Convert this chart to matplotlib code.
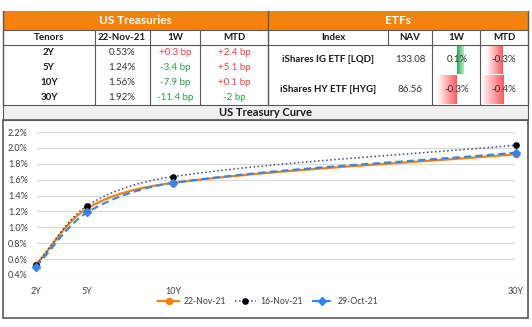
import numpy as np
import matplotlib
matplotlib.use("Agg")
import matplotlib.pyplot as plt
from matplotlib.patches import Rectangle
from matplotlib.lines import Line2D
from matplotlib.ticker import FuncFormatter

plt.rcParams['font.family'] = ['Lato', 'DejaVu Sans']

# ---------------- data ----------------
tenors = ["2Y", "5Y", "10Y", "30Y"]
tenor_years = [2, 5, 10, 30]
yield_22nov = [0.53, 1.24, 1.56, 1.92]
chg_1w_bp = [0.3, -3.4, -7.9, -11.4]
chg_mtd_bp = [2.4, 5.1, 0.1, -2.0]
yield_16nov = [0.527, 1.274, 1.639, 2.034]
yield_29oct = [0.506, 1.189, 1.559, 1.94]

etf_names = ["iShares IG ETF [LQD]", "iShares HY ETF [HYG]"]
etf_nav = [133.08, 86.56]
etf_1w = [0.1, -0.3]
etf_mtd = [-0.3, -0.4]

series_labels = ["22-Nov-21", "16-Nov-21", "29-Oct-21"]
y_ticks = [0.4, 0.6, 0.8, 1.0, 1.2, 1.4, 1.6, 1.8, 2.0, 2.2]

# ---------------- figure ----------------
W, H = 532, 327
fig = plt.figure(figsize=(W / 100, H / 100), dpi=100)
cv = fig.add_axes([0, 0, 1, 1])
cv.set_xlim(0, W)
cv.set_ylim(H, 0)
cv.axis('off')

ORANGE = '#f5820f'
BORDER = '#595959'
RED = '#f03a46'
GREEN = '#1aa34a'
TXT = '#333333'

# header orange band
cv.add_patch(Rectangle((3, 11), 525, 19, facecolor=ORANGE, edgecolor='none'))
cv.text(135.5, 20.5, "US Treasuries", color='white', fontweight='bold', fontsize=8.5,
        ha='center', va='center')
cv.text(398, 20.5, "ETFs", color='white', fontweight='bold', fontsize=8.5,
        ha='center', va='center')

def hline(y, x0, x1, c=BORDER, lw=0.8):
    cv.add_line(Line2D([x0, x1], [y, y], color=c, lw=lw))

def vline(x, y0, y1, c=BORDER, lw=0.8):
    cv.add_line(Line2D([x, x], [y0, y1], color=c, lw=lw))

# table grid
hline(30, 3, 528)
hline(45, 3, 528)
vline(3, 11, 105, lw=1.0)
vline(528, 11, 105, lw=1.0)
vline(268, 11, 105, lw=1.0)
for x in [95, 150, 200]:
    vline(x, 30, 105)
vline(388, 30, 45)
for x in [432, 480]:
    vline(x, 30, 105)

# headers
hdr_y = 37.5
for x, t in zip([49, 122, 175, 234], ["Tenors", "22-Nov-21", "1W", "MTD"]):
    cv.text(x, hdr_y, t, fontweight='bold', fontsize=7, ha='center', va='center', color='#1a1a1a')
for x, t in zip([333, 410, 456, 504], ["Index", "NAV", "1W", "MTD"]):
    cv.text(x, hdr_y, t, fontweight='bold', fontsize=7, ha='center', va='center', color='#1a1a1a')

def bp_txt(v):
    s = f"{v:+.0f}" if abs(v - round(v)) < 1e-9 else f"{v:+.1f}"
    return s + " bp"

row_y = [52.5, 67.5, 82.5, 97.5]
for i, ty in enumerate(row_y):
    cv.text(49, ty, tenors[i], fontweight='bold', fontsize=7, ha='center', va='center', color='#1a1a1a')
    cv.text(122, ty, f"{yield_22nov[i]:.2f}%", fontsize=7, ha='center', va='center', color=TXT)
    c1 = RED if chg_1w_bp[i] > 0 else GREEN
    cv.text(175, ty, bp_txt(chg_1w_bp[i]), fontsize=7, ha='center', va='center', color=c1)
    c2 = RED if chg_mtd_bp[i] > 0 else GREEN
    cv.text(234, ty, bp_txt(chg_mtd_bp[i]), fontsize=7, ha='center', va='center', color=c2)

# data bars
def gradient_bar(x_axis, val, scale, y0, y1, pos_color, neg_color):
    w = val * scale
    n = 64
    if val >= 0:
        x0, x1 = x_axis, x_axis + w
        base = np.array(matplotlib.colors.to_rgb(pos_color))
        t = np.linspace(0, 1, n)
        cols = base[None, :] * (1 - t[:, None] * 0.7) + np.ones(3)[None, :] * (t[:, None] * 0.7)
    else:
        x0, x1 = x_axis + w, x_axis
        base = np.array(matplotlib.colors.to_rgb(neg_color))
        t = np.linspace(1, 0, n)
        cols = base[None, :] * (1 - t[:, None] * 0.95) + np.ones(3)[None, :] * (t[:, None] * 0.95)
    img = cols[None, :, :]
    cv.imshow(img, extent=[x0, x1, y1, y0], aspect='auto', interpolation='bilinear', zorder=1)

etf_rows = [(46, 74), (75.5, 104)]
for i, (y0, y1) in enumerate(etf_rows):
    gradient_bar(456.5, etf_1w[i], 63, y0, y1, '#22b04b', '#ff5a5f')
    gradient_bar(503, etf_mtd[i], 53, y0, y1, '#22b04b', '#ff5a5f')

cv.set_xlim(0, W)
cv.set_ylim(H, 0)

etf_y = [60, 90]
for i, ty in enumerate(etf_y):
    cv.text(328, ty, etf_names[i], fontweight='bold', fontsize=7, ha='center', va='center', color='#1a1a1a', zorder=3)
    cv.text(410, ty, f"{etf_nav[i]:.2f}", fontsize=7, ha='center', va='center', color=TXT, zorder=3)
    cv.text(457, ty, f"{etf_1w[i]:.1f}%", fontsize=7, ha='center', va='center', color=TXT, zorder=3)
    cv.text(504, ty, f"{etf_mtd[i]:.1f}%", fontsize=7, ha='center', va='center', color=TXT, zorder=3)

# curve title strip
cv.add_patch(Rectangle((3, 105), 525, 15, facecolor='#f0f0f0', edgecolor=BORDER, lw=0.8))
cv.text(265.5, 113, "US Treasury Curve", fontweight='bold', fontsize=8, ha='center', va='center', color='#1a1a1a')
# chart border
cv.add_patch(Rectangle((3, 120), 525, 198, facecolor='none', edgecolor=BORDER, lw=1.2))

# ---------------- chart ----------------
def px_box(x0, y0, x1, y1):
    return [x0 / W, 1 - y1 / H, (x1 - x0) / W, (y1 - y0) / H]

ax = fig.add_axes(px_box(36, 132, 516, 275))
ax.set_xlim(2, 30)
ax.set_ylim(0.4, 2.2)
ax.set_yticks(y_ticks)
ax.yaxis.set_major_formatter(FuncFormatter(lambda v, p: f"{v:.1f}%"))
ax.set_xticks(tenor_years)
ax.set_xticklabels(tenors)
ax.grid(axis='y', color='#d9d9d9', lw=0.8)
ax.set_axisbelow(True)
for s in ax.spines.values():
    s.set_visible(False)
ax.tick_params(length=0, labelsize=6.5, colors='#404040')
ax.tick_params(axis='x', pad=9)
ax.tick_params(axis='y', pad=6)
ax.patch.set_alpha(0)


def smooth(x, y, n=60):
    """Excel-style smoothed line (Bezier through the points, in display space)."""
    P = ax.transData.transform(np.column_stack([x, y]).astype(float))
    N = len(P)
    out = []
    for i in range(N - 1):
        p1, p2 = P[i], P[i + 1]
        d12 = np.hypot(*(p2 - p1))
        if i > 0:
            d01 = np.hypot(*(p1 - P[i - 1]))
            c1 = p1 + (p2 - P[i - 1]) * d12 / (d01 + d12) / 3
        else:
            c1 = p1 + (p2 - p1) / 3
        if i + 2 < N:
            d23 = np.hypot(*(P[i + 2] - p2))
            c2 = p2 - (P[i + 2] - p1) * d12 / (d12 + d23) / 3
        else:
            c2 = p2 - (p2 - p1) / 3
        t = np.linspace(0, 1, n)[:, None]
        seg = ((1 - t) ** 3) * p1 + 3 * ((1 - t) ** 2) * t * c1 + 3 * (1 - t) * t ** 2 * c2 + t ** 3 * p2
        out.append(seg if i == 0 else seg[1:])
    S = ax.transData.inverted().transform(np.vstack(out))
    return S[:, 0], S[:, 1]

styles = [
    dict(color='#f5820f', ls='-', lw=1.6, marker='o', mfc='#f5820f', mec='#f5820f', ms=4.5),
    dict(color='#3b4a7a', ls=':', lw=1.1, marker='o', mfc='black', mec='black', ms=3.8),
    dict(color='#2f86f0', ls=(0, (3.5, 2)), lw=1.5, marker='D', mfc='#2f86f0', mec='#2f86f0', ms=4),
]
handles = []
for ys, lab, st in zip([yield_22nov, yield_16nov, yield_29oct], series_labels, styles):
    sx, sy = smooth(tenor_years, ys)
    ax.plot(sx, sy, color=st['color'], ls=st['ls'], lw=st['lw'], clip_on=False, zorder=3)
    ax.plot(tenor_years, ys, ls='none', marker=st['marker'], mfc=st['mfc'], mec=st['mec'],
            ms=st['ms'], clip_on=False, zorder=4)
    handles.append(Line2D([], [], color=st['color'], ls=st['ls'], lw=st['lw'], marker=st['marker'],
                          mfc=st['mfc'], mec=st['mec'], ms=st['ms'], label=lab))

fig.legend(handles=handles, loc='center', bbox_to_anchor=(268 / W, 1 - 302 / H), ncol=3,
           frameon=False, fontsize=6.2, handlelength=2.5, columnspacing=1.0, handletextpad=0.5,
           labelcolor='#404040')

fig.savefig("out.png", dpi=100)
